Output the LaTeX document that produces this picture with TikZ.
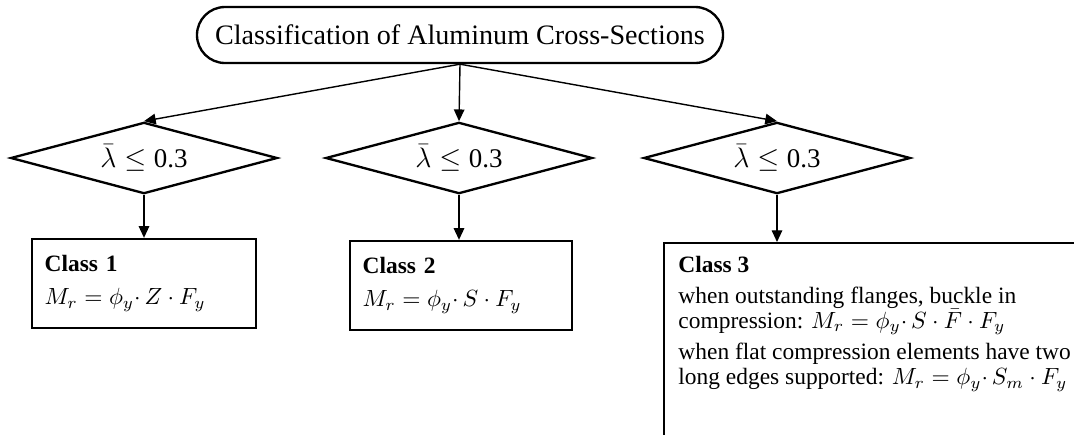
\documentclass[tikz,border=0pt]{standalone}
\usepackage{fontspec}
\setmainfont{Liberation Serif}
\usepackage{amsmath}
\usetikzlibrary{shapes.geometric,arrows.meta}
\definecolor{flowline}{HTML}{000000}

\begin{document}
\begin{tikzpicture}[x=0.015cm,y=-0.015cm,
  decision/.style={diamond,draw=flowline,line width=1pt,aspect=3.75,inner sep=0pt,
    minimum width=4cm,minimum height=1.07cm,font=\fontsize{11.5}{13}\selectfont},
  classbox/.style={rectangle,draw=flowline,line width=1pt,align=left,inner xsep=0.19cm,
    font=\fontsize{10}{11}\selectfont},
  arr/.style={draw=flowline,line width=0.6pt,-{Triangle[length=5pt,width=4.5pt]}}]
  \useasboundingbox (0,0) rectangle (1074,434);
  \clip (0,0) rectangle (1074,434);
  % top
  \node[draw=flowline,line width=1pt,rounded corners=0.42cm,minimum width=7.89cm,
    minimum height=0.84cm,font=\fontsize{12}{14}\selectfont] (title) at (460,35)
    {Classification of Aluminum Cross-Sections};
  % checks
  \node[decision] (d1) at (144,158) {$\bar{\lambda}\leq\text{0.3}$};
  \node[decision] (d2) at (459,158) {$\bar{\lambda}\leq\text{0.3}$};
  \node[decision] (d3) at (777,158) {$\bar{\lambda}\leq\text{0.3}$};
  % classes
  \node[classbox,minimum width=3.36cm,minimum height=1.335cm,text width=2.98cm] (c1) at (144,283.5)
    {\textbf{Class 1}\\[3pt] $M_r=\phi_y{\cdot}\,Z\cdot F_y$};
  \node[classbox,minimum width=3.33cm,minimum height=1.335cm,text width=2.95cm] (c2) at (461,285.5)
    {\textbf{Class 2}\\[3pt] $M_r=\phi_y{\cdot}\,S\cdot F_y$};
  \node[classbox,anchor=north west,minimum width=6.4cm,minimum height=3.2cm] (c3) at (663,242) {};
  \node[anchor=north west,align=left,inner sep=0pt,font=\fontsize{10}{10.5}\selectfont] (c3text)
    at ([xshift=0.225cm,yshift=-0.2cm]c3.north west)
    {\textbf{Class 3}\\[3pt]
     when outstanding flanges, buckle in\\
     compression: $M_r=\phi_y{\cdot}\,S\cdot\bar{F}\cdot F_y$\\[3pt]
     when flat compression elements have two\\
     long edges supported: $M_r=\phi_y{\cdot}\,S_m\cdot F_y$};
  % connectors
  \draw[arr] (title.south) -- (d1.north);
  \draw[arr] (title.south) -- (d2.north);
  \draw[arr] (title.south) -- (d3.north);
  \draw[arr] (d1.south) -- (c1.north);
  \draw[arr] (d2.south) -- (d2.south |- c2.north);
  \draw[arr] (d3.south) -- (d3.south |- c3.north);
\end{tikzpicture}
\end{document}
